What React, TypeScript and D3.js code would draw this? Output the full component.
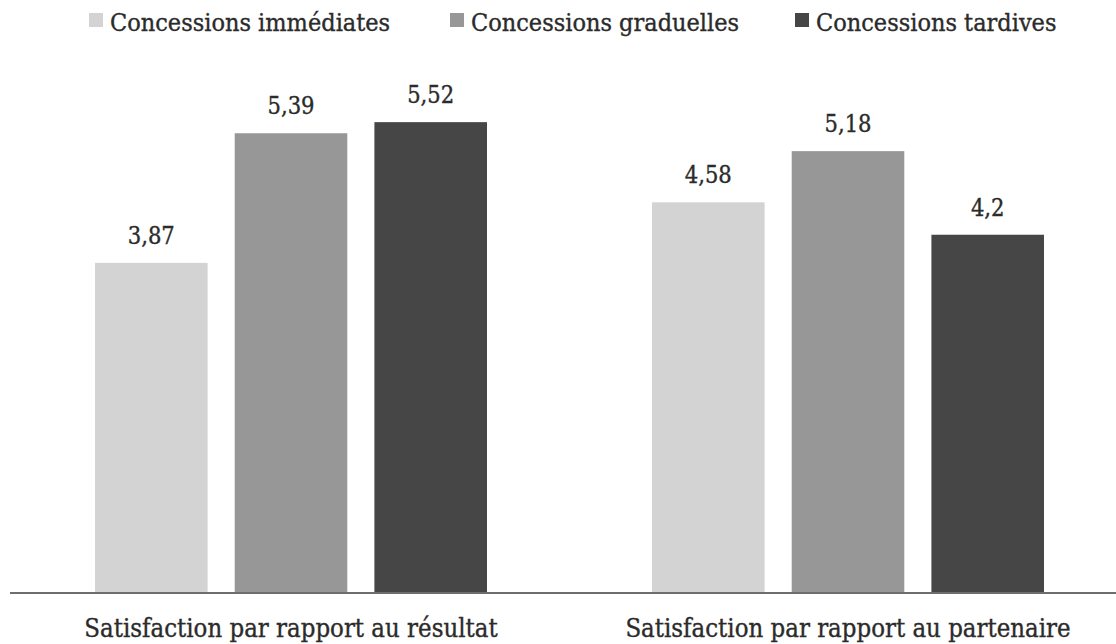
import React from "react";
import * as d3 from "d3";

const categories = ["Satisfaction par rapport au résultat", "Satisfaction par rapport au partenaire"];
const seriesNames = ["Concessions immédiates", "Concessions graduelles", "Concessions tardives"];
const immediates = [3.87, 4.58];
const graduelles = [5.39, 5.18];
const tardives = [5.52, 4.2];
const seriesColors = ["#d3d3d3", "#979797", "#464646"];

const W = 1116;
const H = 644;
const FONT = "'DejaVu Serif Condensed', 'DejaVu Serif', serif";
const INK = "#2b2b2b";

export default function App() {
  const values = [immediates, graduelles, tardives];
  const baseY = 593;

  const x0 = d3.scaleBand<string>().domain(categories).range([12.5, 1126.5]).padding(0);
  const x1 = d3
    .scaleBand<string>()
    .domain(seriesNames)
    .range([82.5, 474.5])
    .paddingInner(0.194)
    .paddingOuter(0);
  const y = d3.scaleLinear().domain([0, 6]).range([baseY, baseY - 6 * 85.3]);
  const fmt = (v: number) => String(v).replace(".", ",");

  const legendX = [89, 450, 795];
  const textProps = { fill: INK, stroke: INK, strokeWidth: 0.35 };

  return (
    <svg
      width={W}
      height={H}
      style={{ position: "absolute", left: 0, top: 0, background: "#fff" }}
      fontFamily={FONT}
    >
      {/* legend */}
      {seriesNames.map((name, i) => (
        <g key={name} transform={`translate(${legendX[i]},0)`}>
          <rect x={0} y={13} width={14} height={14} fill={seriesColors[i]} />
          <text x={21} y={31} fontSize={25} {...textProps}>
            {name}
          </text>
        </g>
      ))}

      {/* bars */}
      {categories.map((cat, ci) => (
        <g key={cat} transform={`translate(${x0(cat)},0)`}>
          {seriesNames.map((s, si) => {
            const v = values[si][ci];
            const bx = x1(s)!;
            const bw = x1.bandwidth();
            return (
              <g key={s}>
                <rect x={bx} y={y(v)} width={bw} height={baseY - y(v)} fill={seriesColors[si]} />
                <text
                  x={bx + bw / 2}
                  y={y(v) - 19}
                  textAnchor="middle"
                  fontSize={23.5}
                  {...textProps}
                >
                  {fmt(v)}
                </text>
              </g>
            );
          })}
          <text
            x={x0.bandwidth() / 2}
            y={637}
            textAnchor="middle"
            fontSize={25.5}
            {...textProps}
          >
            {cat}
          </text>
        </g>
      ))}

      {/* category axis */}
      <line x1={10} x2={W} y1={baseY} y2={baseY} stroke="#6e6e6e" strokeWidth={2} />
    </svg>
  );
}
